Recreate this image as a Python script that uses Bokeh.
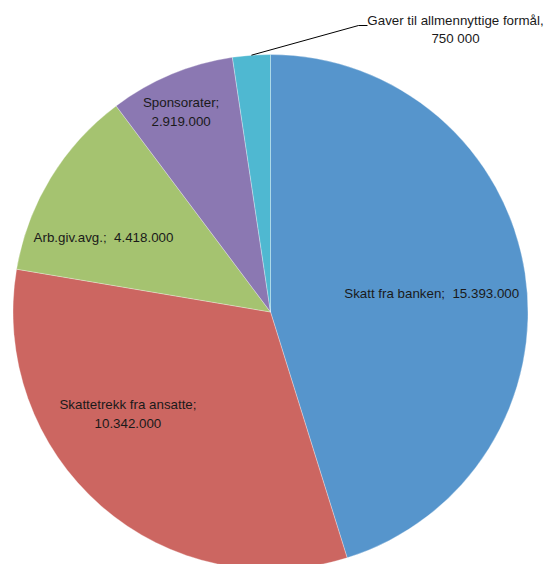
import math
from bokeh.plotting import figure
from bokeh.models import Range1d, ColumnDataSource
from bokeh.core.properties import value
from bokeh.embed import file_html
from bokeh.resources import INLINE

# Data
categories = ["Skatt fra banken", "Skattetrekk fra ansatte", "Arb.giv.avg.", "Sponsorater", "Gaver til allmennyttige formål"]
# values printed in the labels
values = [15393000, 10342000, 4418000, 2919000, 750000]
# slice sizes as drawn in the picture (same units)
slice_values = [15393000, 11060000, 4125000, 2680000, 805000]
labels = ["Skatt fra banken;\u00a0 15.393.000", "Skattetrekk fra ansatte;\n10.342.000",
          "Arb.giv.avg.;\u00a0 4.418.000", "Sponsorater;\n2.919.000",
          "Gaver til allmennyttige formål,\n750 000"]

# Styles
colors = ["#5695CC", "#CC6661", "#A5C370", "#8B78B2", "#4FB8D1"]
label_polar = [(6.4, 0.63), (-144.5, 0.68), (156.0, 0.71), (114.1, 0.85), None]

W, H = 545, 564
cx, cy, R = 270, H - 311.5, 257.5

p = figure(width=W, height=H, output_backend="svg", toolbar_location=None,
           x_range=Range1d(0, W), y_range=Range1d(0, H), min_border=0,
           match_aspect=False)
p.axis.visible = False
p.grid.visible = False
p.outline_line_color = None
p.background_fill_color = "white"

total = float(sum(slice_values))
starts, ends, mids = [], [], []
cum = 0.0
for v in slice_values:
    a0 = math.pi / 2 - 2 * math.pi * cum / total
    cum += v
    a1 = math.pi / 2 - 2 * math.pi * cum / total
    starts.append(a0)
    ends.append(a1)
    mids.append((a0 + a1) / 2)

src = ColumnDataSource(dict(start=starts, end=ends, color=colors))
p.wedge(x=cx, y=cy, radius=R, start_angle="start", end_angle="end", direction="clock",
        fill_color="color", line_color="white", line_width=0.5, line_alpha=0.6, source=src)

lx, ly, lt = [], [], []
for lab, pol in zip(labels, label_polar):
    if pol is None:
        continue
    ang, rf = pol
    lx.append(cx + rf * R * math.cos(math.radians(ang)))
    ly.append(cy + rf * R * math.sin(math.radians(ang)))
    lt.append(lab)
p.text(x=lx, y=ly, text=lt, text_align="center", text_baseline="middle",
       text_font=value("Liberation Sans"), text_font_size="10pt", text_color="#1a1a1a",
       text_line_height=1.25)

# Leader line for the small slice
m = mids[4]
x0, y0 = cx + R * math.cos(m), cy + R * math.sin(m)
p.line([x0, 358, 367], [y0, H - 25, H - 25], line_color="black", line_width=1)
p.text(x=[455], y=[H - 29], text=[labels[4]], text_align="center", text_baseline="middle",
       text_font=value("Liberation Sans"), text_font_size="10pt", text_color="#1a1a1a",
       text_line_height=1.25)

open("out.html", "w").write(file_html(p, INLINE))
